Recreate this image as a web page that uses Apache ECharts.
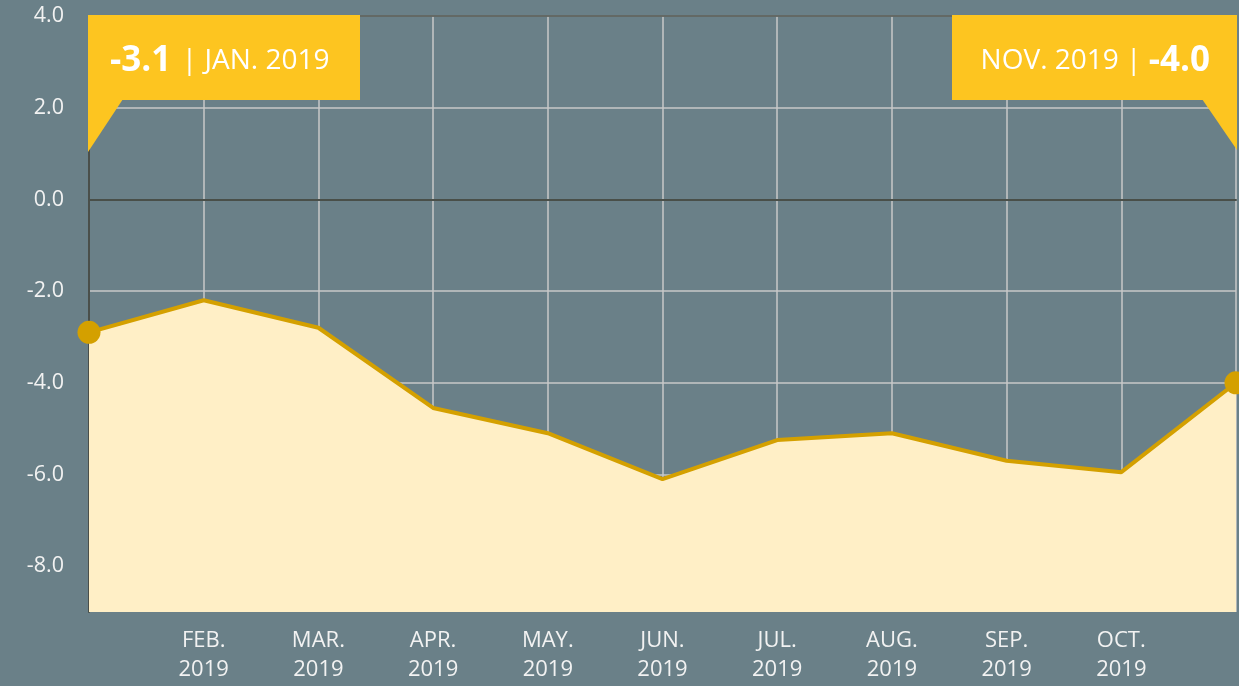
<!DOCTYPE html>
<html>
<head>
<meta charset="utf-8">
<script src="https://cdn.jsdelivr.net/npm/echarts@6/dist/echarts.min.js"></script>
<style>
  html, body { margin: 0; padding: 0; background: #6a8088; }
  #chart { width: 1239px; height: 686px; }
</style>
</head>
<body>
<div id="chart"></div>
<script>
// months on the x axis (first and last carry no axis label)
const months = ['JAN.', 'FEB.', 'MAR.', 'APR.', 'MAY.', 'JUN.', 'JUL.', 'AUG.', 'SEP.', 'OCT.', 'NOV.']
const year = '2019'
// values
const values = [-2.9, -2.2, -2.8, -4.55, -5.1, -6.1, -5.25, -5.1, -5.7, -5.95, -4.0]
// y tick labels
const yTicks = [-8, -6, -4, -2, 0, 2, 4]
// callout texts (start / end)
const calloutValues = ['-3.1', '-4.0']
const calloutDates = ['JAN. 2019', 'NOV. 2019']

const font = '"Open Sans", sans-serif'
const chart = echarts.init(document.getElementById('chart'))

const option = {
    backgroundColor: '#6a8088',
    animation: false,
    grid: { left: 89, right: 0, top: 16, bottom: 74 },
    xAxis: {
        type: 'category',
        boundaryGap: false,
        data: months,
        axisLine: { lineStyle: { color: '#4a4f4a', width: 2 } },
        axisTick: { show: false },
        axisLabel: {
            color: '#f2f2f2',
            fontFamily: font,
            fontSize: 22,
            lineHeight: 29,
            margin: 14,
            formatter: (v, i) => (i === 0 || i === months.length - 1) ? '' : v + '\n' + year
        },
        splitLine: { show: true, lineStyle: { color: '#c8c8c8', width: 1.5 } }
    },
    yAxis: {
        type: 'value',
        min: -9,
        max: 4,
        axisLine: { show: true, lineStyle: { color: '#4a4f4a', width: 2 } },
        axisTick: { show: false, customValues: yTicks },
        axisLabel: {
            color: '#f2f2f2',
            fontFamily: font,
            fontSize: 21.5,
            margin: 25,
            customValues: yTicks,
            formatter: v => v.toFixed(1)
        },
        splitLine: { show: true, lineStyle: { color: '#c8c8c8', width: 1.5 } }
    },
    series: [{
        type: 'line',
        data: values,
        z: 1,
        lineStyle: { color: '#d4a000', width: 4 },
        itemStyle: { color: '#d4a000' },
        areaStyle: { color: '#ffefc6', opacity: 1, origin: 'start' },
        symbol: 'circle',
        symbolSize: (v, p) => (p.dataIndex === 0 || p.dataIndex === values.length - 1) ? 23 : 0,
        showAllSymbol: true,
        markLine: {
            silent: true,
            symbol: 'none',
            label: { show: false },
            lineStyle: { color: '#4a4f4a', width: 1.5, type: 'solid' },
            data: [{ yAxis: 0 }, { yAxis: 4 }]
        }
    }]
}
chart.setOption(option)

// callout boxes anchored at the first and last category
function drawCallouts () {
    const top = chart.convertToPixel({ yAxisIndex: 0 }, 4)
    const x0 = chart.convertToPixel({ xAxisIndex: 0 }, 0)
    const x1 = chart.convertToPixel({ xAxisIndex: 0 }, months.length - 1)
    const boxH = 85
    const yellow = '#fdc520'
    const rich = {
        v: { fontFamily: font, fontSize: 35, fontWeight: 'bold', fill: '#fff' },
        d: { fontFamily: font, fontSize: 28, fill: '#fff' }
    }
    chart.setOption({
        graphic: [
            { type: 'rect', shape: { x: x0 - 1, y: top - 1, width: 272, height: boxH }, style: { fill: yellow }, z: 10 },
            { type: 'polygon', shape: { points: [[x0 - 1, top + boxH - 2], [x0 + 34, top + boxH - 2], [x0 - 1, top + 136]] }, style: { fill: yellow }, z: 10 },
            { type: 'text', x: x0 + 21, y: top + 45, style: {
                text: '{v|' + calloutValues[0] + '} {d| | ' + calloutDates[0] + '}', rich: rich, fill: '#fff', verticalAlign: 'middle', align: 'left' }, z: 11 },
            { type: 'rect', shape: { x: x1 - 284, y: top - 1, width: 285, height: boxH }, style: { fill: yellow }, z: 10 },
            { type: 'polygon', shape: { points: [[x1 - 34, top + boxH - 2], [x1 + 1, top + boxH - 2], [x1 + 1, top + 134]] }, style: { fill: yellow }, z: 10 },
            { type: 'text', x: x1 - 26, y: top + 45, style: {
                text: '{d|' + calloutDates[1] + ' | }{v|' + calloutValues[1] + '}', rich: rich, fill: '#fff', verticalAlign: 'middle', align: 'right' }, z: 11 }
        ]
    })
}
drawCallouts()
</script>
</body>
</html>
